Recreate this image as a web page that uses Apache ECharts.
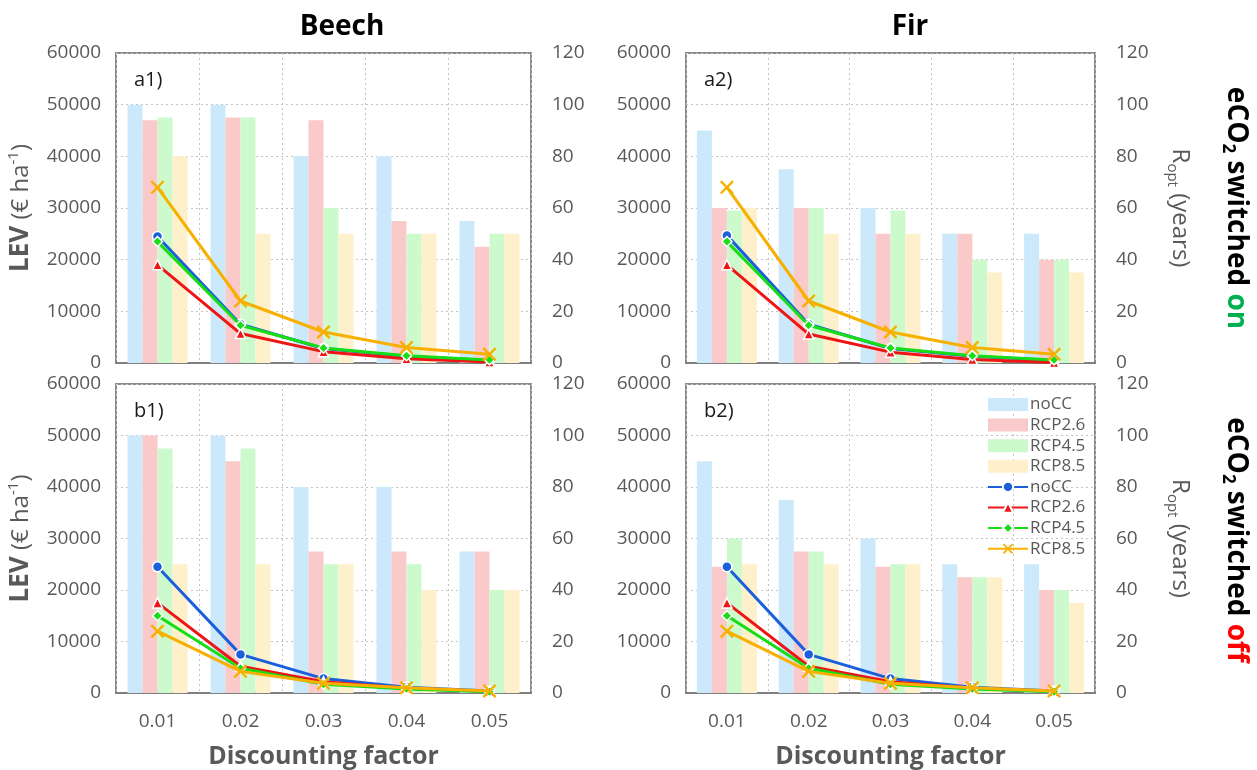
<!DOCTYPE html>
<html>
<head>
<meta charset="utf-8">
<script src="https://cdn.jsdelivr.net/npm/echarts@6/dist/echarts.min.js"></script>
<style>html,body{margin:0;padding:0;background:#fff}#c{width:1257px;height:770px}</style>
</head>
<body>
<div id="c"></div>
<script>
// ---------- DATA ----------
const categories = ['0.01', '0.02', '0.03', '0.04', '0.05'];
const scenarios = ['noCC', 'RCP2.6', 'RCP4.5', 'RCP8.5'];
const leftTicks = [0, 10000, 20000, 30000, 40000, 50000, 60000];
const rightTicks = [0, 20, 40, 60, 80, 100, 120];

// Ropt (years) – bars
const beechOnRopt_noCC  = [100, 100, 80, 80, 55];
const beechOnRopt_rcp26 = [94, 95, 94, 55, 45];
const beechOnRopt_rcp45 = [95, 95, 60, 50, 50];
const beechOnRopt_rcp85 = [80, 50, 50, 50, 50];

const firOnRopt_noCC  = [90, 75, 60, 50, 50];
const firOnRopt_rcp26 = [60, 60, 50, 50, 40];
const firOnRopt_rcp45 = [59, 60, 59, 40, 40];
const firOnRopt_rcp85 = [60, 50, 50, 35, 35];

const beechOffRopt_noCC  = [100, 100, 80, 80, 55];
const beechOffRopt_rcp26 = [100, 90, 55, 55, 55];
const beechOffRopt_rcp45 = [95, 95, 50, 50, 40];
const beechOffRopt_rcp85 = [50, 50, 50, 40, 40];

const firOffRopt_noCC  = [90, 75, 60, 50, 50];
const firOffRopt_rcp26 = [49, 55, 49, 45, 40];
const firOffRopt_rcp45 = [60, 55, 50, 45, 40];
const firOffRopt_rcp85 = [50, 50, 50, 45, 35];

// LEV (€ ha-1) – lines
const beechOnLev_noCC  = [24500, 7500, 2800, 1300, 500];
const beechOnLev_rcp26 = [19000, 5700, 2200, 800, 200];
const beechOnLev_rcp45 = [23500, 7300, 2900, 1400, 600];
const beechOnLev_rcp85 = [34000, 12000, 6000, 3000, 1700];

const firOnLev_noCC  = [24700, 7500, 2800, 1300, 500];
const firOnLev_rcp26 = [19000, 5600, 2100, 700, 100];
const firOnLev_rcp45 = [23500, 7300, 2900, 1400, 600];
const firOnLev_rcp85 = [34000, 12000, 6000, 3000, 1700];

const beechOffLev_noCC  = [24500, 7500, 2800, 1100, 400];
const beechOffLev_rcp26 = [17500, 5200, 2200, 900, 300];
const beechOffLev_rcp45 = [15000, 4800, 1700, 800, 250];
const beechOffLev_rcp85 = [12000, 4200, 1900, 1000, 400];

const firOffLev_noCC  = [24500, 7500, 2800, 1100, 400];
const firOffLev_rcp26 = [17500, 5200, 2200, 900, 300];
const firOffLev_rcp45 = [15000, 4800, 1700, 800, 250];
const firOffLev_rcp85 = [12000, 4200, 1900, 1000, 400];

// ---------- STYLE / LAYOUT ----------
const FONT = 'Open Sans';
const GRAY = '#595959';
const barColors = ['#CBE9FB', '#FAC9C9', '#CDFACD', '#FEF0CA'];
const lineColors = ['#1B5FDC', '#EE1515', '#16DD16', '#F7B000'];
const X_PATH = 'path://M0,1.2 L1.2,0 L5,3.8 L8.8,0 L10,1.2 L6.2,5 L10,8.8 L8.8,10 L5,6.2 L1.2,10 L0,8.8 L3.8,5 Z';
const symbols = ['circle', 'triangle', 'diamond', X_PATH];
const symbolSizes = [10, 10, 10, 14];

const panels = [
  { id: 'a1', left: 116, top: 53, width: 415, height: 310, bottomRow: false, leftName: true, rightName: false,
    bars: [beechOnRopt_noCC, beechOnRopt_rcp26, beechOnRopt_rcp45, beechOnRopt_rcp85],
    lines: [beechOnLev_noCC, beechOnLev_rcp26, beechOnLev_rcp45, beechOnLev_rcp85] },
  { id: 'a2', left: 686, top: 53, width: 409, height: 310, bottomRow: false, leftName: false, rightName: true,
    bars: [firOnRopt_noCC, firOnRopt_rcp26, firOnRopt_rcp45, firOnRopt_rcp85],
    lines: [firOnLev_noCC, firOnLev_rcp26, firOnLev_rcp45, firOnLev_rcp85] },
  { id: 'b1', left: 116, top: 384, width: 415, height: 312, bottomRow: true, leftName: true, rightName: false,
    bars: [beechOffRopt_noCC, beechOffRopt_rcp26, beechOffRopt_rcp45, beechOffRopt_rcp85],
    lines: [beechOffLev_noCC, beechOffLev_rcp26, beechOffLev_rcp45, beechOffLev_rcp85] },
  { id: 'b2', left: 686, top: 384, width: 409, height: 312, bottomRow: true, leftName: false, rightName: true,
    bars: [firOffRopt_noCC, firOffRopt_rcp26, firOffRopt_rcp45, firOffRopt_rcp85],
    lines: [firOffLev_noCC, firOffLev_rcp26, firOffLev_rcp45, firOffLev_rcp85] }
];

const grid = [], xAxis = [], yAxis = [], series = [], graphic = [];

panels.forEach((p, i) => {
  grid.push({ left: p.left, top: p.top, width: p.width, height: p.height,
    show: true, borderColor: '#8A8A8A', borderWidth: 2, backgroundColor: 'transparent', containLabel: false });
  xAxis.push({
    type: 'category', gridIndex: i, data: categories, boundaryGap: true,
    axisLine: { show: true, lineStyle: { color: '#7F7F7F', width: 2 } },
    axisTick: { show: false },
    axisLabel: { show: p.bottomRow, color: GRAY, fontFamily: FONT, fontSize: 19, margin: 19 },
    splitLine: { show: true, interval: 0, lineStyle: { color: '#C4C4C4', type: [2, 3], width: 1 } },
    name: p.bottomRow ? 'Discounting factor' : '',
    nameLocation: 'middle', nameGap: 51,
    nameTextStyle: { color: GRAY, fontFamily: FONT, fontSize: 25, fontWeight: 'bold' }
  });
  yAxis.push({
    type: 'value', gridIndex: i, position: 'left', min: leftTicks[0], max: leftTicks[leftTicks.length - 1],
    interval: leftTicks[1] - leftTicks[0],
    axisLine: { show: false }, axisTick: { show: false },
    axisLabel: { color: GRAY, fontFamily: FONT, fontSize: 19, margin: 15, formatter: v => String(v) },
    splitLine: { show: true, lineStyle: { color: '#C4C4C4', type: [2, 3], width: 1 } },
    name: p.leftName ? '{b|LEV}{n| (€ ha}{s|-1}{n|)}' : '',
    nameLocation: 'middle', nameRotate: 90, nameGap: 80,
    nameTextStyle: {
      color: GRAY, fontFamily: FONT, fontSize: 24,
      rich: {
        b: { fontSize: 26, fontWeight: 'bold', color: GRAY, fontFamily: FONT, lineHeight: 30 },
        n: { fontSize: 24, color: GRAY, fontFamily: FONT, lineHeight: 30 },
        s: { fontSize: 15, color: GRAY, fontFamily: FONT, lineHeight: 15, verticalAlign: 'top' }
      }
    }
  });
  yAxis.push({
    type: 'value', gridIndex: i, position: 'right', min: rightTicks[0], max: rightTicks[rightTicks.length - 1],
    interval: rightTicks[1] - rightTicks[0],
    axisLine: { show: false }, axisTick: { show: false },
    axisLabel: { color: GRAY, fontFamily: FONT, fontSize: 19, margin: 21 },
    splitLine: { show: false },
    name: p.rightName ? '{r|R}{s|opt}{r| (years)}' : '',
    nameLocation: 'middle', nameRotate: -90, nameGap: 70,
    nameTextStyle: {
      color: GRAY, fontFamily: FONT, fontSize: 24,
      rich: {
        r: { fontSize: 24, color: GRAY, fontFamily: FONT, lineHeight: 30 },
        s: { fontSize: 15, color: GRAY, fontFamily: FONT, lineHeight: 15, verticalAlign: 'bottom' }
      }
    }
  });
  scenarios.forEach((name, k) => {
    series.push({
      type: 'bar', name: name, xAxisIndex: i, yAxisIndex: 2 * i + 1,
      data: p.bars[k], barWidth: 15, barGap: '0%',
      itemStyle: { color: barColors[k] }, z: 1, animation: false
    });
  });
  scenarios.forEach((name, k) => {
    series.push({
      type: 'line', name: name + ' ', xAxisIndex: i, yAxisIndex: 2 * i,
      data: p.lines[k], symbol: symbols[k], symbolSize: symbolSizes[k],
      lineStyle: { color: lineColors[k], width: 3 },
      itemStyle: { color: lineColors[k], borderColor: k === 3 ? lineColors[k] : '#ffffff', borderWidth: k === 3 ? 0 : 1.5 },
      z: 5 + k, animation: false
    });
  });
  graphic.push({
    type: 'text', x: p.left + 18, y: p.top + 27,
    style: { text: p.id + ')', font: '20px "' + FONT + '"', fill: '#1a1a1a', textVerticalAlign: 'middle' }
  });
});

// Titles
graphic.push({ type: 'text', x: 342, y: 27, style: { text: 'Beech', font: 'bold 28px "' + FONT + '"', fill: '#000', textAlign: 'center', textVerticalAlign: 'middle' } });
graphic.push({ type: 'text', x: 910, y: 27, style: { text: 'Fir', font: 'bold 28px "' + FONT + '"', fill: '#000', textAlign: 'center', textVerticalAlign: 'middle' } });

const ecoRich = {
  a: { fontSize: 28, fontWeight: 'bold', fill: '#000', color: '#000', fontFamily: FONT, lineHeight: 34 },
  s: { fontSize: 17, fontWeight: 'bold', fill: '#000', color: '#000', fontFamily: FONT, lineHeight: 17, verticalAlign: 'bottom' },
  g: { fontSize: 28, fontWeight: 'bold', fill: '#00B050', color: '#00B050', fontFamily: FONT, lineHeight: 34 },
  r: { fontSize: 28, fontWeight: 'bold', fill: '#FF0000', color: '#FF0000', fontFamily: FONT, lineHeight: 34 }
};
graphic.push({ type: 'text', x: 1236, y: 208, rotation: -Math.PI / 2,
  style: { text: '{a|eCO}{s|2}{a| switched }{g|on}', rich: ecoRich, textAlign: 'center', textVerticalAlign: 'middle' } });
graphic.push({ type: 'text', x: 1236, y: 540, rotation: -Math.PI / 2,
  style: { text: '{a|eCO}{s|2}{a| switched }{r|off}', rich: ecoRich, textAlign: 'center', textVerticalAlign: 'middle' } });

const legendData = scenarios.map(n => ({ name: n, icon: 'rect' })).concat(scenarios.map(n => ({ name: n + ' ' })));

const option = {
  backgroundColor: '#ffffff',
  animation: false,
  grid: grid, xAxis: xAxis, yAxis: yAxis, series: series, graphic: graphic,
  legend: {
    orient: 'vertical', left: 982, top: 391, itemWidth: 40, itemHeight: 13, itemGap: 3.6,
    selectedMode: false, data: legendData,
    formatter: n => n.trim(),
    textStyle: { color: GRAY, fontFamily: FONT, fontSize: 17, padding: [0, 0, 0, -3] }
  }
};

const chart = echarts.init(document.getElementById('c'), null, { renderer: 'canvas' });
chart.setOption(option);
</script>
</body>
</html>
